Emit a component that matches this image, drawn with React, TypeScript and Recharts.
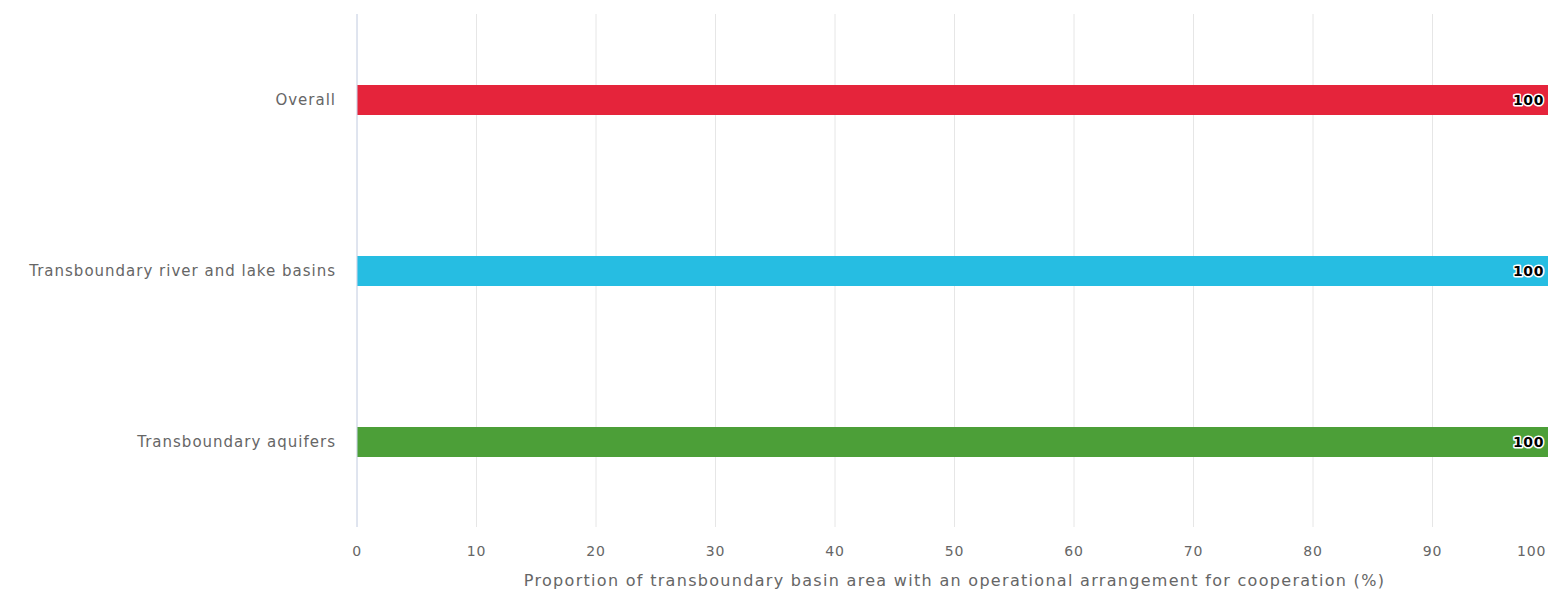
import React from "react"
import { BarChart, Bar, XAxis, YAxis, CartesianGrid, Cell, LabelList } from "recharts"

const categories = ["Overall", "Transboundary river and lake basins", "Transboundary aquifers"]
const values = [100, 100, 100]
const xTicks = [0, 10, 20, 30, 40, 50, 60, 70, 80, 90, 100]

const barColors = ["#e5243b", "#26bde2", "#4c9f38"]
const font = "'DejaVu Sans', Verdana, sans-serif"

const chartData = categories.map((name, i) => ({ name, value: values[i] }))

function ValueLabel(props: any) {
  const { x, y, width, height, value } = props
  return (
    <text
      x={x + width - 8}
      y={y + height / 2}
      dy="0.36em"
      textAnchor="end"
      fontFamily={font}
      fontSize={14}
      fontWeight="bold"
      letterSpacing={0.6}
      fill="#000"
      stroke="#fff"
      strokeWidth={3}
      strokeLinejoin="round"
      paintOrder="stroke"
    >
      {value}
    </text>
  )
}

// last tick label is pushed left so it stays (mostly) inside the frame
function XTick(props: any) {
  const { x, y, payload, index } = props
  const last = index === xTicks.length - 1
  return (
    <text
      x={last ? x - 35 : x}
      y={y}
      dy="0.71em"
      textAnchor={last ? "start" : "middle"}
      fill="#666"
      fontSize={14}
      letterSpacing={0.8}
      fontFamily={font}
    >
      {payload.value}
    </text>
  )
}

export default function App() {
  return (
    <div style={{ position: "fixed", left: 0, top: 0, width: 1548, height: 593, overflow: "hidden", background: "#fff" }}>
      <BarChart
        width={1580}
        height={593}
        data={chartData}
        layout="vertical"
        margin={{ top: 14, right: 28, bottom: 0, left: 0 }}
        style={{ fontFamily: font }}
      >
        <CartesianGrid horizontal={false} stroke="#e6e6e6" />
        <XAxis
          type="number"
          domain={[0, 100]}
          ticks={xTicks}
          interval={0}
          height={66}
          axisLine={false}
          tickLine={false}
          tickSize={0}
          tickMargin={19}
          tick={<XTick />}
          label={{
            value: "Proportion of transboundary basin area with an operational arrangement for cooperation (%)",
            position: "insideBottom",
            offset: 7,
            fill: "#666",
            fontSize: 16,
            letterSpacing: 1.3,
            fontFamily: font,
          }}
        />
        <YAxis
          type="category"
          dataKey="name"
          width={357}
          axisLine={{ stroke: "#ccd6eb" }}
          tickLine={false}
          tickSize={0}
          tickMargin={21}
          tick={{ fill: "#666", fontSize: 15, letterSpacing: 1, fontFamily: font }}
        />
        <Bar dataKey="value" barSize={30} isAnimationActive={false}>
          {chartData.map((d, i) => (
            <Cell key={d.name} fill={barColors[i]} />
          ))}
          <LabelList dataKey="value" content={ValueLabel} />
        </Bar>
      </BarChart>
    </div>
  )
}
